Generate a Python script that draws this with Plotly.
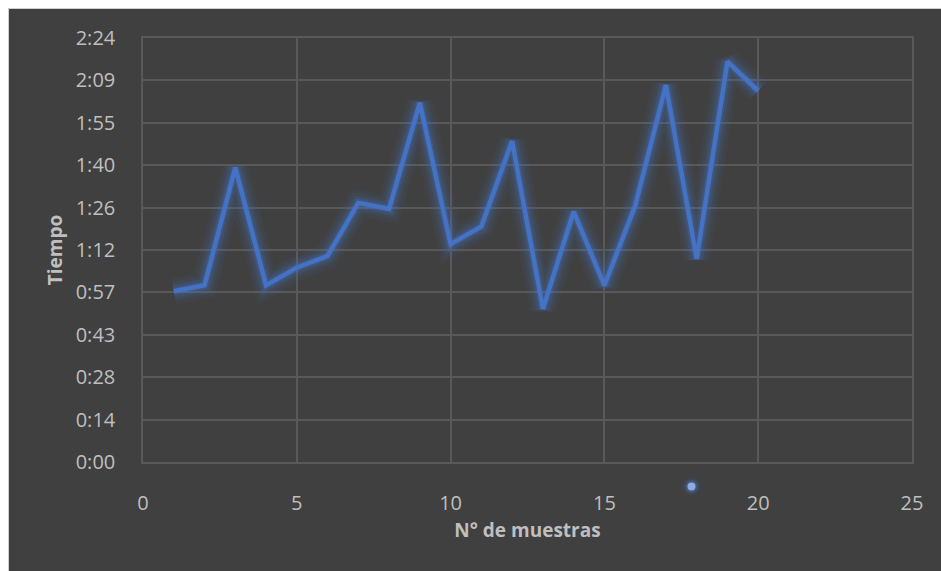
import plotly.graph_objects as go

# Sample number and measured time (seconds) per sample
muestras = list(range(1, 21))
tiempo_s = [58, 60, 100, 60, 66, 70, 88, 86, 122, 74,
            80, 109, 52, 85, 60, 87, 128, 69, 136, 126]

# Time axis: ticks every 14.4 s, labelled as m:ss
y_tickvals = [0, 14.4, 28.8, 43.2, 57.6, 72, 86.4, 100.8, 115.2, 129.6, 144]
y_ticktext = ["0:00", "0:14", "0:28", "0:43", "0:57", "1:12",
              "1:26", "1:40", "1:55", "2:09", "2:24"]
x_tickvals = [0, 5, 10, 15, 20, 25]

# figure slightly larger than the window so the dark area runs to the edges
W, H = 945, 575
ML, MT = 143, 38
PW, PH = 769, 424
MR, MB = W - ML - PW, H - MT - PH

BG = "#404040"
GRID = "#595959"
TXT = "#BFBFBF"
BLUE = "#4472C4"
FONT = "Open Sans"


def px_x(px):
    return (px - ML) / PW


def px_y(py):
    return (MT + PH - py) / PH


fig = go.Figure()

# soft glow under the line
for w, a in [(26, 0.06), (19, 0.10), (13, 0.16), (8, 0.25)]:
    fig.add_trace(go.Scatter(
        x=muestras, y=tiempo_s, mode="lines",
        line=dict(color=f"rgba(68,114,196,{a})", width=w),
        hoverinfo="skip", showlegend=False))

fig.add_trace(go.Scatter(
    x=muestras, y=tiempo_s, mode="lines",
    line=dict(color=BLUE, width=4.5),
    name="Tiempo", showlegend=False))

shapes = []
# white page margin outside the chart frame
shapes.append(dict(type="rect", xref="paper", yref="paper",
                   x0=px_x(-5), x1=px_x(8), y0=px_y(H + 5), y1=px_y(-5),
                   fillcolor="white", line=dict(width=0), layer="above"))
shapes.append(dict(type="rect", xref="paper", yref="paper",
                   x0=px_x(-5), x1=px_x(W + 5), y0=px_y(8.5), y1=px_y(-5),
                   fillcolor="white", line=dict(width=0), layer="above"))
shapes.append(dict(type="line", xref="paper", yref="paper",
                   x0=px_x(8.5), x1=px_x(8.5), y0=px_y(H + 5), y1=px_y(8.5),
                   line=dict(color="#D0D0D0", width=1), layer="above"))
shapes.append(dict(type="line", xref="paper", yref="paper",
                   x0=px_x(8.5), x1=px_x(W + 5), y0=px_y(8.5), y1=px_y(8.5),
                   line=dict(color="#D0D0D0", width=1), layer="above"))

# small legend-style marker below the axis
cx, cy = px_x(691.5), px_y(486.5)
for r, col in [(9, "rgba(68,114,196,0.10)"), (7, "rgba(68,114,196,0.2)"),
               (5.5, "rgba(68,114,196,0.35)"), (4, "#8EA9DB")]:
    shapes.append(dict(type="circle", xref="paper", yref="paper",
                       xsizemode="pixel", ysizemode="pixel",
                       xanchor=cx, yanchor=cy,
                       x0=-r, x1=r, y0=-r, y1=r,
                       fillcolor=col, line=dict(width=0), layer="above"))

fig.update_layout(
    width=W, height=H,
    margin=dict(l=ML, r=MR, t=MT, b=MB, pad=0),
    paper_bgcolor=BG, plot_bgcolor=BG,
    font=dict(family=FONT, color=TXT, size=20),
    shapes=shapes,
    showlegend=False,
)

fig.update_xaxes(
    range=[0, 25], tickvals=x_tickvals,
    showgrid=True, gridcolor=GRID, gridwidth=1.5,
    showline=True, linecolor=GRID, linewidth=1.5, mirror=True,
    zeroline=False, ticks="", ticklabelstandoff=22,
    tickfont=dict(family=FONT, size=20, color=TXT),
    title=dict(text="<b>N° de muestras</b>", standoff=9,
               font=dict(family=FONT, size=19, color=TXT)),
)
fig.update_yaxes(
    range=[0, 144], tickvals=y_tickvals, ticktext=y_ticktext,
    showgrid=True, gridcolor=GRID, gridwidth=1.5,
    showline=True, linecolor=GRID, linewidth=1.5, mirror=True,
    zeroline=False, ticks="", ticklabelstandoff=22,
    tickfont=dict(family=FONT, size=20, color=TXT),
    title=dict(text="<b>Tiempo</b>", standoff=8,
               font=dict(family=FONT, size=19, color=TXT)),
)

fig.write_html(
    "out.html",
    post_script="document.body.style.margin='0';"
                "document.body.style.overflow='hidden';"
                "document.documentElement.style.overflow='hidden';"
                "document.body.style.background='#404040';",
)
